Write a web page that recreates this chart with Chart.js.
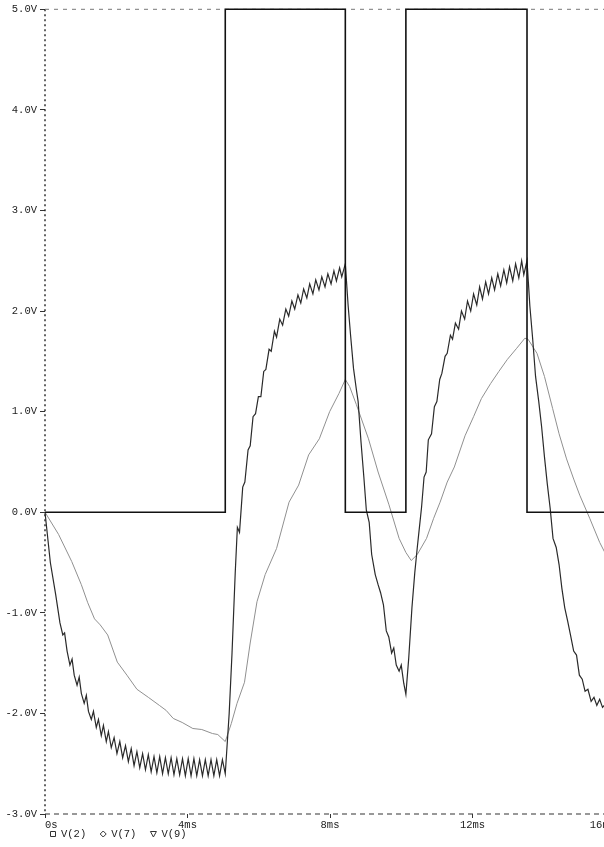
<!DOCTYPE html>
<html>
<head>
<meta charset="utf-8">
<title>V(2) V(7) V(9)</title>
<script src="https://cdn.jsdelivr.net/npm/chart.js@4.4.1/dist/chart.umd.min.js"></script>
<style>
  html, body { margin: 0; padding: 0; background: #fff; overflow: hidden; }
  #wrap { position: relative; width: 624px; height: 847px; }
</style>
</head>
<body>
<div id="wrap"><canvas id="scope" width="624" height="847"></canvas></div>
<script>
/* ── AXES ── */
const xTickValues = [0, 4, 8, 12, 16];
const xTickLabels = ['0s', '4ms', '8ms', '12ms', '16ms'];
const yTickValues = [-3, -2, -1, 0, 1, 2, 3, 4, 5];
const seriesNames = ['V(2)', 'V(7)', 'V(9)'];

/* ── V(2): square drive (ms / volts) ── */
const v2Time = [0, 5.06, 5.06, 8.43, 8.43, 10.13, 10.13, 13.53, 13.53, 16];
const v2Volt = [0, 0,    5,    5,    0,    0,     5,     5,     0,     0];

/* ── V(7): rippled trace ── */
const v7Time = [
  0, 0.15, 0.30, 0.42, 0.50, 0.55, 0.62, 0.70, 0.76, 0.82, 0.90, 0.96, 1.02, 1.10, 1.16, 1.22, 1.30, 1.36, 1.44, 1.50,
  1.58, 1.64, 1.72, 1.78, 1.86, 1.94, 2.02, 2.10, 2.18, 2.26, 2.34, 2.42, 2.50, 2.58, 2.66, 2.74, 2.82, 2.90, 2.98, 3.06,
  3.14, 3.22, 3.30, 3.38, 3.46, 3.54, 3.62, 3.70, 3.78, 3.86, 3.94, 4.02, 4.10, 4.18, 4.26, 4.34, 4.42, 4.50, 4.58, 4.66,
  4.74, 4.82, 4.90, 4.98, 5.06,
  5.17, 5.25, 5.34, 5.40, 5.46, 5.55, 5.61, 5.70, 5.76, 5.84, 5.91, 5.99, 6.06, 6.14, 6.20, 6.29, 6.35, 6.44, 6.50, 6.59,
  6.67, 6.76, 6.84, 6.93, 7.01, 7.10, 7.18, 7.26, 7.35, 7.43, 7.52, 7.60, 7.69, 7.77, 7.86, 7.94, 8.03, 8.11, 8.18, 8.27,
  8.33, 8.43,
  8.51, 8.58, 8.66, 8.74, 8.79, 8.87, 8.95, 9.02, 9.10, 9.17, 9.27, 9.35, 9.42, 9.50, 9.58, 9.65, 9.73, 9.79, 9.86, 9.94,
  10.00, 10.07, 10.13,
  10.21, 10.30, 10.38, 10.45, 10.51, 10.57, 10.64, 10.70, 10.76, 10.85, 10.93, 11.00, 11.08, 11.14, 11.23, 11.29, 11.38,
  11.44, 11.52, 11.61, 11.69, 11.78, 11.86, 11.95, 12.03, 12.12, 12.20, 12.28, 12.37, 12.45, 12.54, 12.62, 12.71, 12.79,
  12.88, 12.96, 13.04, 13.13, 13.21, 13.30, 13.38, 13.44, 13.53,
  13.61, 13.69, 13.77, 13.86, 13.94, 14.02, 14.10, 14.18, 14.26, 14.35, 14.43, 14.51, 14.59, 14.67, 14.75, 14.84, 14.92,
  15.00, 15.08, 15.16, 15.24, 15.33, 15.41, 15.49, 15.57, 15.65, 15.75, 15.86
];
const v7Volt = [
  0, -0.50, -0.82, -1.10, -1.22, -1.20, -1.38, -1.52, -1.46, -1.62, -1.72, -1.64, -1.80, -1.90, -1.82, -1.98, -2.06, -1.98, -2.14, -2.06,
  -2.22, -2.12, -2.28, -2.18, -2.34, -2.24, -2.40, -2.28, -2.44, -2.32, -2.48, -2.35, -2.52, -2.38, -2.54, -2.40, -2.56, -2.41, -2.58, -2.43,
  -2.59, -2.43, -2.60, -2.44, -2.60, -2.44, -2.61, -2.45, -2.61, -2.45, -2.62, -2.45, -2.62, -2.45, -2.62, -2.46, -2.62, -2.46, -2.62, -2.46,
  -2.62, -2.46, -2.62, -2.46, -2.60,
  -2.00, -1.40, -0.60, -0.15, -0.20, 0.25, 0.30, 0.62, 0.66, 0.95, 0.98, 1.15, 1.15, 1.40, 1.42, 1.62, 1.60, 1.80, 1.74, 1.92,
  1.86, 2.02, 1.95, 2.10, 2.02, 2.16, 2.08, 2.22, 2.13, 2.27, 2.17, 2.31, 2.21, 2.34, 2.24, 2.37, 2.27, 2.40, 2.30, 2.43,
  2.34, 2.47,
  2.05, 1.75, 1.43, 1.22, 1.10, 0.70, 0.35, 0.02, -0.10, -0.42, -0.62, -0.72, -0.80, -0.92, -1.18, -1.24, -1.40, -1.35, -1.52, -1.58,
  -1.52, -1.70, -1.81,
  -1.45, -0.95, -0.60, -0.35, -0.15, 0.05, 0.35, 0.40, 0.72, 0.78, 1.05, 1.10, 1.32, 1.38, 1.55, 1.58, 1.76,
  1.72, 1.88, 1.82, 2.00, 1.92, 2.10, 2.00, 2.17, 2.06, 2.24, 2.12, 2.29, 2.17, 2.33, 2.21, 2.37, 2.25,
  2.41, 2.28, 2.44, 2.30, 2.47, 2.33, 2.50, 2.36, 2.50,
  2.05, 1.72, 1.35, 1.10, 0.85, 0.55, 0.28, 0.04, -0.26, -0.35, -0.52, -0.76, -0.95, -1.08, -1.22, -1.38, -1.42,
  -1.62, -1.66, -1.78, -1.76, -1.88, -1.84, -1.92, -1.86, -1.94, -1.90, -1.98
];

/* ── V(9): smooth lagging trace ── */
const v9Time = [
  0, 0.38, 0.75, 1.02, 1.2, 1.39, 1.55, 1.76, 2.03, 2.3, 2.58, 2.9, 3.21, 3.4, 3.6, 3.85, 4.15, 4.4, 4.7, 4.85, 5.06,
  5.23, 5.39, 5.60, 5.76, 5.95, 6.18, 6.50, 6.85, 7.12, 7.40, 7.70, 7.99, 8.25, 8.43,
  8.55, 8.74, 9.08, 9.35, 9.65, 9.94, 10.13,
  10.28, 10.45, 10.71, 10.91, 11.09, 11.29, 11.49, 11.79, 12.03, 12.25, 12.51, 12.74, 12.98, 13.24, 13.47, 13.56,
  13.81, 14.02, 14.25, 14.43, 14.64, 14.84, 15.01, 15.29, 15.57, 15.86
];
const v9Volt = [
  0, -0.22, -0.49, -0.72, -0.90, -1.06, -1.12, -1.22, -1.49, -1.62, -1.76, -1.84, -1.92, -1.97, -2.05, -2.09, -2.15, -2.16, -2.20, -2.21, -2.28,
  -2.10, -1.90, -1.69, -1.30, -0.89, -0.62, -0.36, 0.10, 0.27, 0.57, 0.73, 1.00, 1.18, 1.32,
  1.25, 1.07, 0.73, 0.40, 0.08, -0.26, -0.40,
  -0.48, -0.42, -0.26, -0.06, 0.10, 0.30, 0.45, 0.76, 0.95, 1.13, 1.28, 1.40, 1.52, 1.63, 1.73, 1.72,
  1.58, 1.35, 1.03, 0.78, 0.53, 0.33, 0.17, -0.06, -0.30, -0.50
];

/* ── helpers ── */
const MONO = '"Liberation Mono", "DejaVu Sans Mono", monospace';
const toPoints = (ts, vs) => ts.slice(0, Math.min(ts.length, vs.length)).map((t, i) => ({ x: t, y: vs[i] }));

// Probe-style frame: dotted axis lines (border.dash only affects grid lines, so draw them here)
// plus the marker legend under the time axis
const probeFrame = {
  id: 'probeFrame',
  beforeDatasetsDraw(chart) {
    const { ctx, chartArea: a } = chart;
    const line = (x1, y1, x2, y2, color, width, dash) => {
      ctx.save();
      ctx.strokeStyle = color; ctx.lineWidth = width; ctx.setLineDash(dash);
      ctx.beginPath(); ctx.moveTo(x1, y1); ctx.lineTo(x2, y2); ctx.stroke();
      ctx.restore();
    };
    line(a.left, a.top, a.left, a.bottom, '#222', 1.4, [2, 3]);
    line(a.left, a.bottom, a.right, a.bottom, '#333', 1.2, [5, 4]);
    line(a.left, a.top, a.right, a.top, '#777', 1, [4, 5]);
  },
  afterDraw(chart) {
    const ctx = chart.ctx;
    const y = 834;
    let x = 50;
    ctx.save();
    ctx.font = '10.5px ' + MONO;
    ctx.textBaseline = 'middle';
    ctx.lineWidth = 1;
    ctx.strokeStyle = '#333';
    chart.data.datasets.forEach(ds => {
      const cx = x + 3;
      ctx.beginPath();
      if (ds.marker === 'square') {
        ctx.rect(cx - 2.5, y - 2.5, 5, 5);
      } else if (ds.marker === 'diamond') {
        ctx.moveTo(cx, y - 3); ctx.lineTo(cx + 3, y); ctx.lineTo(cx, y + 3); ctx.lineTo(cx - 3, y); ctx.closePath();
      } else {
        ctx.moveTo(cx - 3, y - 2.5); ctx.lineTo(cx + 3, y - 2.5); ctx.lineTo(cx, y + 3); ctx.closePath();
      }
      ctx.stroke();
      ctx.fillStyle = '#222';
      ctx.fillText(ds.label, x + 11, y);
      x += 11 + ctx.measureText(ds.label).width + 14;
    });
    ctx.restore();
  }
};

new Chart(document.getElementById('scope'), {
  type: 'line',
  data: {
    datasets: [
      { label: seriesNames[0], marker: 'square',  data: toPoints(v2Time, v2Volt), borderColor: '#111', borderWidth: 1.6 },
      { label: seriesNames[1], marker: 'diamond', data: toPoints(v7Time, v7Volt), borderColor: '#2a2a2a', borderWidth: 1.2 },
      { label: seriesNames[2], marker: 'tri',     data: toPoints(v9Time, v9Volt), borderColor: '#909090', borderWidth: 1 },
    ],
  },
  options: {
    responsive: false,
    animation: false,
    parsing: false,
    clip: 4,
    elements: { point: { radius: 0 }, line: { tension: 0 } },
    layout: { padding: { top: 6, right: 9, left: 0, bottom: 0 } },
    plugins: { legend: { display: false }, tooltip: { enabled: false } },
    scales: {
      x: {
        type: 'linear', position: 'bottom', min: 0, max: 16,
        afterBuildTicks: s => { s.ticks = xTickValues.map(v => ({ value: v })); },
        afterFit: s => { s.height = 33; },
        grid: { drawOnChartArea: false, color: '#333', tickLength: 4 },
        border: { display: false },
        ticks: {
          align: 'inner', padding: 1, color: '#222', font: { family: MONO, size: 10.5 },
          callback: v => xTickLabels[xTickValues.indexOf(v)],
        },
      },
      y: {
        min: -3, max: 5,
        afterBuildTicks: s => { s.ticks = yTickValues.map(v => ({ value: v })); },
        afterFit: s => { s.width = 45; },
        grid: { drawOnChartArea: false, color: '#333', tickLength: 5 },
        border: { display: false },
        ticks: {
          padding: 3, color: '#222', font: { family: MONO, size: 10.5 },
          callback: v => v.toFixed(1) + 'V',
        },
      },
    },
  },
  plugins: [probeFrame],
});
</script>
</body>
</html>
